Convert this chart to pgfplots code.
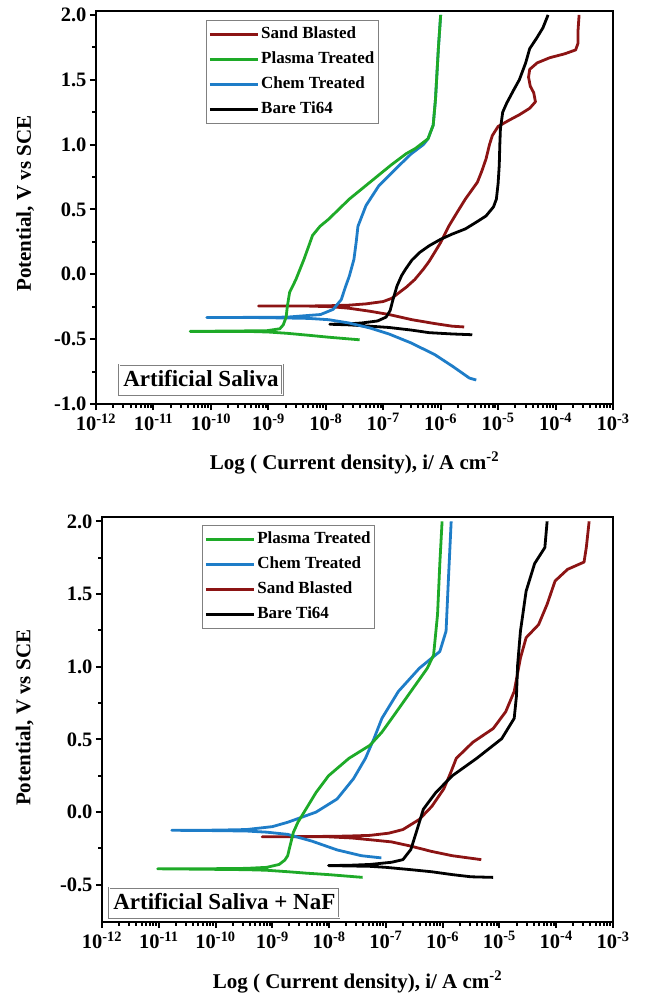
\documentclass[border=0pt]{standalone}
\usepackage{fontspec}
\setmainfont{Liberation Serif}
\usepackage{pgfplots}
\pgfplotsset{compat=1.18}

\definecolor{sbred}{RGB}{140,20,20}
\definecolor{ptgreen}{RGB}{30,170,40}
\definecolor{ctblue}{RGB}{30,125,200}

\newcommand\fs[1]{\fontsize{#1}{#1}\selectfont\bfseries}

\newcommand\minorticks{}
\foreach \d in {-12,...,-4}{%
  \foreach \m in {0.30103,0.47712,0.60206,0.69897,0.77815,0.8451,0.90309,0.95424}{%
    \pgfmathsetmacro\v{\d+\m}%
    \xdef\minorticks{\minorticks\v,}%
  }%
}
\xdef\minorticks{\minorticks -3}

\pgfplotsset{pol/.style={
  scale only axis,
  xmin=-12, xmax=-3,
  xtick={-12,-11,-10,-9,-8,-7,-6,-5,-4,-3},
  xticklabels={10\textsuperscript{-12},10\textsuperscript{-11},10\textsuperscript{-10},10\textsuperscript{-9},10\textsuperscript{-8},10\textsuperscript{-7},10\textsuperscript{-6},10\textsuperscript{-5},10\textsuperscript{-4},10\textsuperscript{-3}},
  minor xtick/.expanded={\minorticks},
  tick align=outside, tick pos=left,
  axis line style={line width=2.8pt},
  every tick/.style={line width=2pt, black},
  major tick length=6pt, minor tick length=3.5pt,
  ticklabel style={font=\fs{20.5}},
  label style={font=\fs{21}},
  xlabel={Log ( Current density), i/ A cm\textsuperscript{-2}},
  ylabel={Potential, V vs SCE},
  legend cell align=left,
  legend image code/.code={\draw[##1] (0pt,0pt) -- (48pt,0pt);},
  legend style={draw=gray, line width=0.8pt, font=\fs{17}, anchor=north west,
    row sep=0pt, inner xsep=2pt, inner ysep=1.5pt,
    nodes={text height=12pt, text depth=4pt, inner ysep=4.5pt}},
  every axis plot/.append style={line width=2.8pt, line join=round},
}}

\begin{document}
\begin{tikzpicture}
\useasboundingbox (0pt,0pt) rectangle (647pt,-996pt);

% ---------------- Top panel: Artificial Saliva ----------------
\begin{axis}[pol,
  at={(96pt,-11pt)}, anchor=north west,
  width=517pt, height=393pt,
  ymin=-1, ymax=2.03,
  ytick={-1,-0.5,0,0.5,1,1.5,2},
  yticklabels={-1.0,-0.5,0.0,0.5,1.0,1.5,2.0},
  minor ytick={-0.75,-0.25,0.25,0.75,1.25,1.75},
  ylabel style={at={(axis description cs:-0.137,0.51)}, anchor=center},
  xlabel style={at={(axis description cs:0.5,-0.15)}, anchor=center},
  legend style={at={(axis description cs:0.2128,0.977)}},
]
\addlegendimage{sbred}\addlegendentry{Sand Blasted}
\addlegendimage{ptgreen}\addlegendentry{Plasma Treated}
\addlegendimage{ctblue}\addlegendentry{Chem Treated}
\addlegendimage{black}\addlegendentry{Bare Ti64}

% Sand Blasted
\addplot[sbred, forget plot] coordinates {
(-5.59,-0.406) (-5.8,-0.40) (-6.1,-0.38) (-6.5,-0.35) (-6.9,-0.31) (-7.23,-0.285)
(-7.59,-0.262) (-7.9,-0.25) (-8.3,-0.245) (-8.8,-0.245) (-9.17,-0.245) (-8.6,-0.245)
(-8.0,-0.243) (-7.6,-0.238) (-7.3,-0.228) (-7.0,-0.21) (-6.85,-0.185) (-6.75,-0.15)
(-6.6,-0.10) (-6.45,-0.04) (-6.3,0.04) (-6.2,0.10) (-6.0,0.245) (-5.86,0.37)
(-5.71,0.48) (-5.57,0.58) (-5.36,0.71) (-5.28,0.80) (-5.21,0.89) (-5.15,1.0)
(-5.10,1.07) (-5.0,1.14) (-4.8,1.19) (-4.63,1.23) (-4.45,1.28) (-4.35,1.33)
(-4.38,1.40) (-4.44,1.45) (-4.47,1.52) (-4.45,1.58) (-4.32,1.63) (-4.1,1.67)
(-3.84,1.70) (-3.65,1.73) (-3.61,1.78) (-3.61,1.87) (-3.59,2.0)
};
% Bare Ti64
\addplot[black, forget plot] coordinates {
(-5.45,-0.466) (-5.8,-0.46) (-6.2,-0.45) (-6.51,-0.43) (-6.9,-0.41) (-7.23,-0.40)
(-7.59,-0.39) (-7.93,-0.385) (-7.6,-0.382) (-7.37,-0.375) (-7.1,-0.36) (-6.95,-0.33)
(-6.88,-0.28) (-6.83,-0.195) (-6.76,-0.09) (-6.68,-0.01) (-6.61,0.04) (-6.5,0.11)
(-6.36,0.17) (-6.2,0.22) (-6.0,0.27) (-5.8,0.31) (-5.57,0.35) (-5.35,0.41)
(-5.21,0.45) (-5.08,0.52) (-5.03,0.58) (-5.0,0.7) (-4.98,0.84) (-4.97,1.0)
(-4.96,1.12) (-4.92,1.25) (-4.85,1.32) (-4.73,1.42) (-4.63,1.50) (-4.52,1.63)
(-4.45,1.74) (-4.33,1.82) (-4.22,1.90) (-4.13,2.0)
};
% Chem Treated
\addplot[ctblue, forget plot] coordinates {
(-5.38,-0.815) (-5.5,-0.80) (-5.79,-0.71) (-6.1,-0.62) (-6.51,-0.53) (-6.9,-0.46)
(-7.23,-0.414) (-7.6,-0.375) (-7.95,-0.35) (-8.3,-0.34) (-8.67,-0.337) (-9.3,-0.333)
(-10.07,-0.333) (-9.2,-0.332) (-8.67,-0.33) (-8.09,-0.31) (-7.87,-0.27) (-7.73,-0.195)
(-7.66,-0.10) (-7.59,-0.014) (-7.51,0.115) (-7.47,0.25) (-7.44,0.37) (-7.30,0.53)
(-7.08,0.68) (-6.79,0.81) (-6.51,0.93) (-6.3,1.0) (-6.22,1.045) (-6.13,1.15)
(-6.09,1.35) (-6.04,1.74) (-6.0,2.0)
};
% Plasma Treated
\addplot[ptgreen, forget plot] coordinates {
(-7.41,-0.505) (-7.95,-0.485) (-8.3,-0.47) (-8.67,-0.455) (-9.0,-0.445) (-9.39,-0.44)
(-9.9,-0.44) (-10.36,-0.44) (-9.6,-0.437) (-9.03,-0.435) (-8.8,-0.42) (-8.74,-0.39)
(-8.69,-0.33) (-8.67,-0.25) (-8.63,-0.14) (-8.52,-0.04) (-8.38,0.115) (-8.23,0.30)
(-8.1,0.37) (-7.95,0.425) (-7.59,0.58) (-7.23,0.71) (-6.87,0.84) (-6.6,0.93)
(-6.44,0.97) (-6.22,1.045) (-6.13,1.15) (-6.09,1.35) (-6.04,1.74) (-6.0,2.0)
};
\node[draw=gray, double, double distance=1pt, line width=0.6pt, anchor=south west,
  font=\fs{23}, text height=16pt, text depth=2pt, inner xsep=4pt, inner ysep=6pt]
  at (axis description cs:0.0445,0.023) {Artificial Saliva};
\end{axis}

% ---------------- Bottom panel: Artificial Saliva + NaF ----------------
\begin{axis}[pol,
  at={(102pt,-517pt)}, anchor=north west,
  width=511pt, height=405pt,
  ymin=-0.756, ymax=2.03,
  ytick={-0.5,0,0.5,1,1.5,2},
  yticklabels={-0.5,0.0,0.5,1.0,1.5,2.0},
  minor ytick={-0.25,0.25,0.75,1.25,1.75},
  ylabel style={at={(axis description cs:-0.151,0.504)}, anchor=center},
  xlabel style={at={(axis description cs:0.5,-0.148)}, anchor=center},
  legend style={at={(axis description cs:0.196,0.98)}},
]
\addlegendimage{ptgreen}\addlegendentry{Plasma Treated}
\addlegendimage{ctblue}\addlegendentry{Chem Treated}
\addlegendimage{sbred}\addlegendentry{Sand Blasted}
\addlegendimage{black}\addlegendentry{Bare Ti64}

% Sand Blasted
\addplot[sbred, forget plot] coordinates {
(-5.32,-0.327) (-5.83,-0.30) (-6.2,-0.27) (-6.56,-0.234) (-6.9,-0.205) (-7.28,-0.19)
(-7.6,-0.178) (-8.01,-0.17) (-8.6,-0.17) (-9.18,-0.17) (-8.3,-0.168) (-7.7,-0.165)
(-7.28,-0.16) (-6.95,-0.145) (-6.70,-0.12) (-6.41,-0.05) (-6.19,0.04) (-5.98,0.16)
(-5.86,0.27) (-5.76,0.37) (-5.47,0.48) (-5.11,0.575) (-4.89,0.69) (-4.74,0.83)
(-4.63,1.06) (-4.53,1.20) (-4.31,1.29) (-4.16,1.43) (-4.02,1.59) (-3.80,1.67)
(-3.51,1.72) (-3.47,1.82) (-3.42,2.0)
};
% Bare Ti64
\addplot[black, forget plot] coordinates {
(-5.11,-0.449) (-5.5,-0.445) (-5.83,-0.43) (-6.2,-0.41) (-6.56,-0.396) (-7.0,-0.38)
(-7.28,-0.373) (-8.01,-0.368) (-7.6,-0.365) (-7.28,-0.36) (-6.9,-0.345) (-6.70,-0.327)
(-6.56,-0.257) (-6.45,-0.12) (-6.34,0.02) (-6.12,0.135) (-5.83,0.25) (-5.40,0.37)
(-4.96,0.505) (-4.74,0.645) (-4.70,0.8) (-4.68,1.01) (-4.63,1.245) (-4.53,1.52)
(-4.38,1.71) (-4.20,1.82) (-4.16,2.0)
};
% Chem Treated
\addplot[ctblue, forget plot] coordinates {
(-7.08,-0.315) (-7.43,-0.30) (-7.86,-0.26) (-8.30,-0.20) (-8.73,-0.153) (-9.1,-0.138)
(-9.46,-0.13) (-10.1,-0.127) (-10.77,-0.125) (-10.0,-0.124) (-9.46,-0.12) (-9.0,-0.10)
(-8.73,-0.07) (-8.23,0.0) (-7.86,0.09) (-7.57,0.23) (-7.36,0.37) (-7.21,0.505)
(-7.07,0.645) (-6.78,0.83) (-6.41,0.99) (-6.05,1.105) (-5.94,1.245) (-5.90,1.59)
(-5.85,2.0)
};
% Plasma Treated
\addplot[ptgreen, forget plot] coordinates {
(-7.41,-0.449) (-8.01,-0.43) (-8.4,-0.42) (-8.73,-0.41) (-9.1,-0.40) (-9.46,-0.396)
(-10.2,-0.393) (-11.02,-0.39) (-10.0,-0.389) (-9.46,-0.387) (-9.1,-0.38) (-8.88,-0.36)
(-8.78,-0.33) (-8.73,-0.30) (-8.68,-0.22) (-8.63,-0.14) (-8.55,-0.07) (-8.44,0.0)
(-8.23,0.135) (-8.01,0.25) (-7.65,0.37) (-7.28,0.46) (-7.07,0.55) (-6.85,0.67)
(-6.56,0.83) (-6.27,0.99) (-6.16,1.08) (-6.09,1.36) (-6.05,1.71) (-6.01,2.0)
};
\node[draw=gray, double, double distance=1pt, line width=0.6pt, anchor=south west,
  font=\fs{23}, text height=16pt, text depth=2pt, inner xsep=4pt, inner ysep=6pt]
  at (axis description cs:0.0137,0.01) {Artificial Saliva + NaF};
\end{axis}
\end{tikzpicture}
\end{document}
